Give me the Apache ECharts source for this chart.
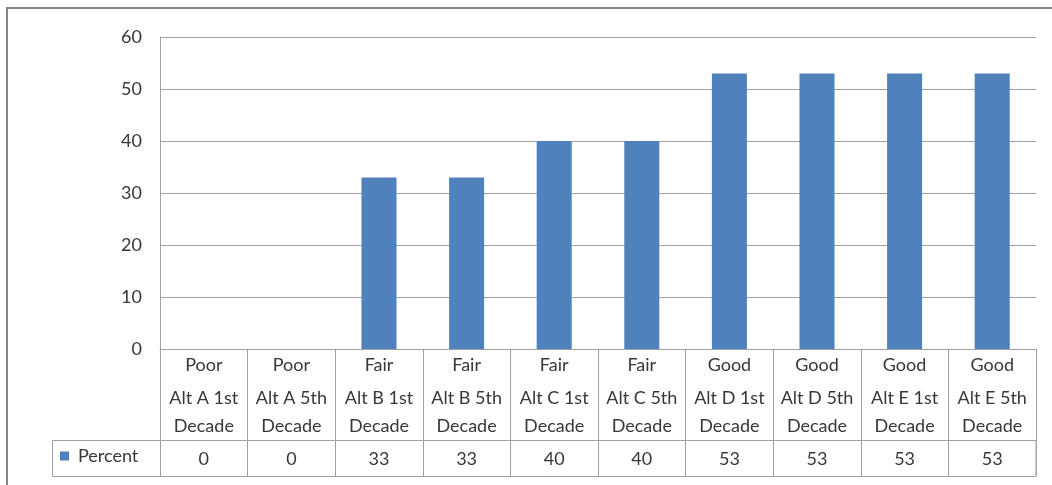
<!DOCTYPE html>
<html>
<head>
<meta charset="utf-8">
<script src="https://cdn.jsdelivr.net/npm/echarts@6/dist/echarts.min.js"></script>
<style>
  html, body { margin: 0; padding: 0; background: #fff; }
  #main { width: 1052px; height: 485px; }
</style>
</head>
<body>
<div id="main"></div>
<script>
// ratings, alternatives and values
var ratings = ['Poor', 'Poor', 'Fair', 'Fair', 'Fair', 'Fair', 'Good', 'Good', 'Good', 'Good'];
var alternatives = ['Alt A 1st', 'Alt A 5th', 'Alt B 1st', 'Alt B 5th', 'Alt C 1st',
                    'Alt C 5th', 'Alt D 1st', 'Alt D 5th', 'Alt E 1st', 'Alt E 5th'];
var percent = [0, 0, 33, 33, 40, 40, 53, 53, 53, 53];
var yTicks = [0, 10, 20, 30, 40, 50, 60];

var categories = alternatives.map(function (a, i) { return ratings[i] + ' ' + a + ' Decade'; });

var fontFamily = 'Lato, "Liberation Sans", sans-serif';
var fontSize = 18;
var textColor = '#383838';
var lineColor = '#a0a0a0';

// plot area
var gridLeft = 160, gridRight = 16, gridTop = 37, gridBottom = 136;
var plotBottom = 485 - gridBottom;   // 349
var headerH = 91;                    // category header row
var rowH = 36;                       // values row

var chart = echarts.init(document.getElementById('main'));
chart.setOption({
    animation: false,
    color: ['#4F81BD'],
    textStyle: { fontFamily: fontFamily },
    grid: { left: gridLeft, right: gridRight, top: gridTop, bottom: gridBottom },
    legend: {
        data: ['Percent'],
        icon: 'rect',
        itemWidth: 9,
        itemHeight: 9,
        itemGap: 6,
        left: 60,
        top: plotBottom + headerH + 7,
        padding: 0,
        textStyle: { fontSize: fontSize, color: textColor, fontFamily: fontFamily, padding: [0, 0, 0, 4] }
    },
    xAxis: [{
        type: 'category',
        data: categories,
        axisLine: { show: true, lineStyle: { color: lineColor } },
        axisTick: { show: true, length: headerH, lineStyle: { color: lineColor } },
        axisLabel: {
            interval: 0,
            margin: 1,
            formatter: function (v, i) {
                return '{a|' + ratings[i] + '}\n{b|' + alternatives[i] + '}\n{c|Decade}';
            },
            rich: {
                a: { fontSize: fontSize, lineHeight: 30, color: textColor, fontFamily: fontFamily },
                b: { fontSize: fontSize, lineHeight: 36, color: textColor, fontFamily: fontFamily },
                c: { fontSize: fontSize, lineHeight: 20, color: textColor, fontFamily: fontFamily }
            }
        }
    }, {
        type: 'category',
        position: 'bottom',
        offset: headerH,
        data: categories,
        axisLine: { show: true, lineStyle: { color: lineColor } },
        axisTick: { show: true, length: rowH, lineStyle: { color: lineColor } },
        axisLabel: {
            interval: 0,
            margin: 8,
            fontSize: fontSize,
            lineHeight: 22,
            color: textColor,
            formatter: function (v, i) { return String(percent[i]); }
        }
    }],
    yAxis: {
        type: 'value',
        min: yTicks[0],
        max: yTicks[yTicks.length - 1],
        interval: 10,
        axisLine: { show: true, lineStyle: { color: lineColor } },
        axisTick: { show: false },
        axisLabel: { fontSize: fontSize, color: textColor, margin: 18 },
        splitLine: { lineStyle: { color: lineColor } }
    },
    series: [{
        name: 'Percent',
        type: 'bar',
        xAxisIndex: 0,
        barWidth: '40%',
        data: percent
    }],
    graphic: [{
        type: 'rect',
        shape: { x: 7, y: 8, width: 1060, height: 500 },
        style: { fill: 'none', stroke: '#888', lineWidth: 2 },
        silent: true
    }, {
        type: 'rect',
        shape: { x: 52.5, y: plotBottom + headerH + 0.5, width: 1052 - gridRight - 52.5, height: rowH },
        style: { fill: 'none', stroke: lineColor, lineWidth: 1 },
        silent: true
    }]
});
</script>
</body>
</html>
